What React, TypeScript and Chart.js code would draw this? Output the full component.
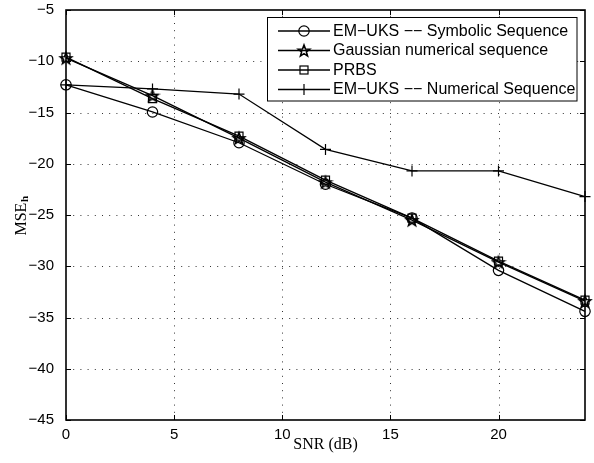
import React, { useEffect, useRef } from "react";
import { Chart, registerables } from "chart.js";

Chart.register(...registerables);

// SNR sweep (dB) and channel-estimation MSE (dB) per training sequence
const snrDb = [0, 4, 8, 12, 16, 20, 24];
const symbolicSeq = [-12.3, -14.95, -17.95, -22.0, -25.3, -30.4, -34.4];
const gaussianSeq = [-9.7, -13.35, -17.5, -21.8, -25.5, -29.6, -33.4];
const prbsSeq = [-9.6, -13.65, -17.3, -21.6, -25.3, -29.5, -33.3];
const numericalSeq = [-12.3, -12.7, -13.2, -18.6, -20.7, -20.7, -23.2];

const seriesLabels = [
  "EM\u2212UKS \u2212\u2212 Symbolic Sequence",
  "Gaussian numerical sequence",
  "PRBS",
  "EM\u2212UKS \u2212\u2212 Numerical Sequence",
];
const markerKinds = ["circle", "star", "square", "plus"];

const xTicks = [0, 5, 10, 15, 20];
const yTicks = [-45, -40, -35, -30, -25, -20, -15, -10, -5];
const xRange = [0, 24];
const yRange = [-45, -5];

const xTitle = "SNR (dB)";
const yTitleMain = "MSE";
const yTitleSub = "h";

const SANS = '"Liberation Sans", Arial, Helvetica, sans-serif';
const SERIF = '"Liberation Serif", "Times New Roman", serif';

function fmtTick(v: number): string {
  return v < 0 ? "\u2212" + Math.abs(v) : String(v);
}

function pentagramPath(ctx: CanvasRenderingContext2D, cx: number, cy: number, R: number) {
  const r = R * 0.42;
  ctx.beginPath();
  for (let i = 0; i < 10; i++) {
    const rad = i % 2 === 0 ? R : r;
    const a = -Math.PI / 2 + (i * Math.PI) / 5;
    const px = cx + rad * Math.cos(a);
    const py = cy + rad * Math.sin(a);
    if (i === 0) ctx.moveTo(px, py);
    else ctx.lineTo(px, py);
  }
  ctx.closePath();
}

function makeStarImage(): HTMLCanvasElement {
  const c = document.createElement("canvas");
  c.width = 16;
  c.height = 16;
  const g = c.getContext("2d")!;
  g.strokeStyle = "#000";
  g.lineWidth = 1.6;
  g.lineJoin = "miter";
  pentagramPath(g, 8, 8.6, 6);
  g.stroke();
  return c;
}

function drawMarker(ctx: CanvasRenderingContext2D, kind: string, x: number, y: number) {
  ctx.save();
  ctx.strokeStyle = "#000";
  ctx.lineWidth = 1.2;
  if (kind === "circle") {
    ctx.beginPath();
    ctx.arc(x, y, 5.2, 0, Math.PI * 2);
    ctx.stroke();
  } else if (kind === "star") {
    ctx.lineWidth = 1.6;
    pentagramPath(ctx, x, y + 0.6, 6);
    ctx.stroke();
  } else if (kind === "square") {
    ctx.strokeRect(x - 4, y - 4, 8, 8);
  } else {
    ctx.beginPath();
    ctx.moveTo(x - 5.5, y);
    ctx.lineTo(x + 5.5, y);
    ctx.moveTo(x, y - 5.5);
    ctx.lineTo(x, y + 5.5);
    ctx.stroke();
  }
  ctx.restore();
}

// Dotted grid, boxed axes with inward tick marks, axis titles
const framePlugin = {
  id: "frame",
  beforeDatasetsDraw(chart: any) {
    const { ctx, chartArea } = chart;
    const { left, right, top, bottom } = chartArea;
    const xs = chart.scales.x;
    const ys = chart.scales.y;
    ctx.save();
    ctx.strokeStyle = "#333";
    ctx.lineWidth = 1;
    ctx.setLineDash([1, 6.2]);
    for (const v of xTicks) {
      const px = Math.round(xs.getPixelForValue(v)) + 0.5;
      if (Math.abs(px - left) < 2 || Math.abs(px - right) < 2) continue;
      ctx.beginPath();
      ctx.moveTo(px, bottom);
      ctx.lineTo(px, top);
      ctx.stroke();
    }
    for (const v of yTicks) {
      const py = Math.round(ys.getPixelForValue(v)) + 0.5;
      if (Math.abs(py - top) < 2 || Math.abs(py - bottom) < 2) continue;
      ctx.beginPath();
      ctx.moveTo(left, py);
      ctx.lineTo(right, py);
      ctx.stroke();
    }
    ctx.setLineDash([]);
    ctx.strokeStyle = "#000";
    ctx.lineWidth = 1;
    const tl = 5;
    for (const v of xTicks) {
      const px = Math.round(xs.getPixelForValue(v)) + 0.5;
      ctx.beginPath();
      ctx.moveTo(px, bottom);
      ctx.lineTo(px, bottom - tl);
      ctx.moveTo(px, top);
      ctx.lineTo(px, top + tl);
      ctx.stroke();
    }
    for (const v of yTicks) {
      const py = Math.round(ys.getPixelForValue(v)) + 0.5;
      ctx.beginPath();
      ctx.moveTo(left, py);
      ctx.lineTo(left + tl, py);
      ctx.moveTo(right, py);
      ctx.lineTo(right - tl, py);
      ctx.stroke();
    }
    ctx.lineWidth = 1.6;
    ctx.strokeRect(left, top, right - left, bottom - top);

    // x-axis title
    ctx.fillStyle = "#000";
    ctx.font = `16px ${SERIF}`;
    ctx.textAlign = "center";
    ctx.textBaseline = "alphabetic";
    ctx.fillText(xTitle, (left + right) / 2, 449);

    // y-axis title with subscript
    ctx.save();
    ctx.translate(25.5, (top + bottom) / 2 + 1);
    ctx.rotate(-Math.PI / 2);
    ctx.textAlign = "left";
    ctx.font = `16px ${SERIF}`;
    const wMain = ctx.measureText(yTitleMain).width;
    ctx.font = `bold 11px ${SERIF}`;
    const wSub = ctx.measureText(yTitleSub).width;
    const x0 = -(wMain + wSub) / 2;
    ctx.font = `16px ${SERIF}`;
    ctx.fillText(yTitleMain, x0, 0);
    ctx.font = `bold 11px ${SERIF}`;
    ctx.fillText(yTitleSub, x0 + wMain + 0.5, 2.5);
    ctx.restore();
    ctx.restore();
  },
  afterDraw(chart: any) {
    // legend box in the upper right
    const { ctx } = chart;
    const bx = 267.5;
    const by = 17.5;
    const bw = 309.5;
    const bh = 83.5;
    ctx.save();
    ctx.fillStyle = "#fff";
    ctx.fillRect(bx, by, bw, bh);
    ctx.strokeStyle = "#000";
    ctx.lineWidth = 1;
    ctx.strokeRect(bx, by, bw, bh);
    ctx.font = `16px ${SANS}`;
    ctx.textAlign = "left";
    ctx.textBaseline = "middle";
    ctx.fillStyle = "#000";
    seriesLabels.forEach((label, i) => {
      const y = by + 13.5 + i * 19.5;
      ctx.beginPath();
      ctx.lineWidth = 1.3;
      ctx.moveTo(278, y);
      ctx.lineTo(330, y);
      ctx.stroke();
      drawMarker(ctx, markerKinds[i], 304, y);
      ctx.fillText(label, 333, y + 0.5);
    });
    ctx.restore();
  },
};

export default function App() {
  const canvasRef = useRef<HTMLCanvasElement | null>(null);

  useEffect(() => {
    const canvas = canvasRef.current;
    if (!canvas) return;
    const star = makeStarImage();
    const base = {
      borderColor: "#000",
      borderWidth: 1.3,
      pointBorderColor: "#000",
      pointBackgroundColor: "rgba(0,0,0,0)",
      pointBorderWidth: 1.2,
      tension: 0,
      fill: false,
      clip: false as any,
    };
    const toXY = (ys: number[]) => snrDb.map((x, i) => ({ x, y: ys[i] }));
    const chart = new Chart(canvas, {
      type: "line",
      data: {
        datasets: [
          { ...base, label: seriesLabels[0], data: toXY(symbolicSeq), pointStyle: "circle", pointRadius: 5.2 },
          { ...base, label: seriesLabels[1], data: toXY(gaussianSeq), pointStyle: star as any, pointRadius: 6 },
          { ...base, label: seriesLabels[2], data: toXY(prbsSeq), pointStyle: "rect", pointRadius: 5.66 },
          { ...base, label: seriesLabels[3], data: toXY(numericalSeq), pointStyle: "cross", pointRadius: 5.5 },
        ],
      },
      options: {
        animation: false,
        responsive: false,
        maintainAspectRatio: false,
        layout: { padding: { left: 0, top: 10, right: 9, bottom: 0 } },
        plugins: {
          legend: { display: false },
          tooltip: { enabled: false },
        },
        scales: {
          x: {
            type: "linear",
            min: xRange[0],
            max: xRange[1],
            grid: { display: false },
            border: { display: false },
            ticks: {
              color: "#000",
              font: { family: SANS, size: 15 },
              padding: -2,
              maxRotation: 0,
              callback: (v: any) => fmtTick(Number(v)),
            },
            afterBuildTicks: (s: any) => {
              s.ticks = xTicks.map((value) => ({ value }));
            },
            afterFit: (s: any) => {
              s.height = 43;
              s.paddingLeft = 0;
              s.paddingRight = 0;
            },
          },
          y: {
            type: "linear",
            min: yRange[0],
            max: yRange[1],
            grid: { display: false },
            border: { display: false },
            ticks: {
              color: "#000",
              font: { family: SANS, size: 15 },
              padding: 4,
              callback: (v: any) => fmtTick(Number(v)),
            },
            afterBuildTicks: (s: any) => {
              s.ticks = yTicks.map((value) => ({ value }));
            },
            afterFit: (s: any) => {
              s.width = 66;
              s.paddingTop = 0;
              s.paddingBottom = 0;
            },
          },
        },
      },
      plugins: [framePlugin],
    });
    return () => chart.destroy();
  }, []);

  return (
    <div style={{ position: "fixed", left: 0, top: 0, width: 594, height: 463, background: "#fff" }}>
      <canvas ref={canvasRef} width={594} height={463} style={{ display: "block", width: 594, height: 463 }} />
    </div>
  );
}
